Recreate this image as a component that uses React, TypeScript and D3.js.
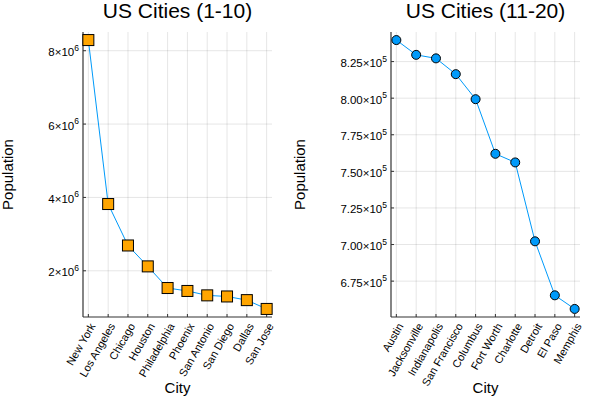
import React from "react";
import * as d3 from "d3";

const cities1 = ["New York", "Los Angeles", "Chicago", "Houston", "Philadelphia", "Phoenix", "San Antonio", "San Diego", "Dallas", "San Jose"];
const pop1 = [8290000, 3820000, 2690000, 2120000, 1530000, 1450000, 1330000, 1300000, 1200000, 960000];
const cities2 = ["Austin", "Jacksonville", "Indianapolis", "San Francisco", "Columbus", "Fort Worth", "Charlotte", "Detroit", "El Paso", "Memphis"];
const pop2 = [839700, 829600, 827200, 816400, 799300, 762000, 756100, 702200, 665300, 656000];
const ticks1 = [2000000, 4000000, 6000000, 8000000];
const tickMant1 = ["2", "4", "6", "8"];
const tickExp1 = "6";
const ticks2 = [675000, 700000, 725000, 750000, 775000, 800000, 825000];
const tickMant2 = ["6.75", "7.00", "7.25", "7.50", "7.75", "8.00", "8.25"];
const tickExp2 = "5";

const FONT = "'Liberation Sans', Arial, Helvetica, sans-serif";
const BLUE = "#009AFA";
const ORANGE = "#FFA500";

type PanelProps = {
  title: string;
  cats: string[];
  vals: number[];
  ticks: number[];
  mant: string[];
  exp: string;
  x0: number;
  x1: number;
  marker: "square" | "circle";
  ylabX: number;
};

function widen(lo: number, hi: number): [number, number] {
  const r = hi - lo;
  return [lo - 0.03 * r, hi + 0.03 * r];
}

function Panel({ title, cats, vals, ticks, mant, exp, x0, x1, marker, ylabX }: PanelProps) {
  const y0 = 32;
  const y1 = 317;
  const xs = d3.scaleLinear().domain(widen(0.5, cats.length - 0.5)).range([x0, x1]);
  const ext = d3.extent(vals) as [number, number];
  const ys = d3.scaleLinear().domain(widen(ext[0], ext[1])).range([y1, y0]);
  const pts: [number, number][] = vals.map((v, i) => [xs(i + 0.5), ys(v)]);
  const line = d3.line()(pts) || "";
  const cx = (x0 + x1) / 2;
  return (
    <g>
      <text x={cx} y={18} textAnchor="middle" fontSize={21} fontFamily={FONT} fill="#000">{title}</text>
      {cats.map((c, i) => (
        <line key={"gx" + i} x1={xs(i + 0.5)} x2={xs(i + 0.5)} y1={y0} y2={y1} stroke="#000" strokeOpacity={0.1} strokeWidth={1} />
      ))}
      {ticks.map((t, i) => (
        <line key={"gy" + i} x1={x0} x2={x1} y1={ys(t)} y2={ys(t)} stroke="#000" strokeOpacity={0.1} strokeWidth={1} />
      ))}
      <line x1={x0} x2={x0} y1={y0} y2={y1} stroke="#333" strokeWidth={1.2} />
      <line x1={x0} x2={x1} y1={y1} y2={y1} stroke="#333" strokeWidth={1.2} />
      {cats.map((c, i) => (
        <line key={"tx" + i} x1={xs(i + 0.5)} x2={xs(i + 0.5)} y1={y1} y2={y1 - 3} stroke="#333" strokeWidth={1} />
      ))}
      {ticks.map((t, i) => (
        <line key={"ty" + i} x1={x0} x2={x0 + 3} y1={ys(t)} y2={ys(t)} stroke="#333" strokeWidth={1} />
      ))}
      {ticks.map((t, i) => (
        <text key={"yl" + i} x={x0 - 4} y={ys(t) + 5.5} textAnchor="end" fontSize={11.5} fontFamily={FONT} fill="#000">
          {mant[i] + "×10"}
          <tspan dy={-5.5} fontSize={8.5}>{exp}</tspan>
        </text>
      ))}
      {cats.map((c, i) => (
        <text key={"xl" + i} transform={`translate(${xs(i + 0.5) + 4},${y1 + 7}) rotate(-60)`} textAnchor="end" dominantBaseline="central" fontSize={11} fontFamily={FONT} fill="#000">{c}</text>
      ))}
      <path d={line} fill="none" stroke={BLUE} strokeWidth={1} />
      {pts.map((p, i) =>
        marker === "square" ? (
          <rect key={"m" + i} x={p[0] - 5.5} y={p[1] - 5.5} width={11} height={11} fill={ORANGE} stroke="#000" strokeWidth={1} />
        ) : (
          <circle key={"m" + i} cx={p[0]} cy={p[1]} r={4.5} fill={BLUE} stroke="#000" strokeWidth={1} />
        )
      )}
      <text transform={`translate(${ylabX},${(y0 + y1) / 2}) rotate(-90)`} textAnchor="middle" fontSize={15} fontFamily={FONT} fill="#000">Population</text>
      <text x={cx} y={393} textAnchor="middle" fontSize={15} fontFamily={FONT} fill="#000">City</text>
    </g>
  );
}

export default function App() {
  return (
    <svg width={600} height={400} style={{ position: "absolute", left: 0, top: 0, background: "#fff" }}>
      <rect width={600} height={400} fill="#fff" />
      <Panel title="US Cities (1-10)" cats={cities1} vals={pop1} ticks={ticks1} mant={tickMant1} exp={tickExp1} x0={83} x1={272} marker="square" ylabX={13} />
      <Panel title="US Cities (11-20)" cats={cities2} vals={pop2} ticks={ticks2} mant={tickMant2} exp={tickExp2} x0={391} x1={580} marker="circle" ylabX={305} />
    </svg>
  );
}
